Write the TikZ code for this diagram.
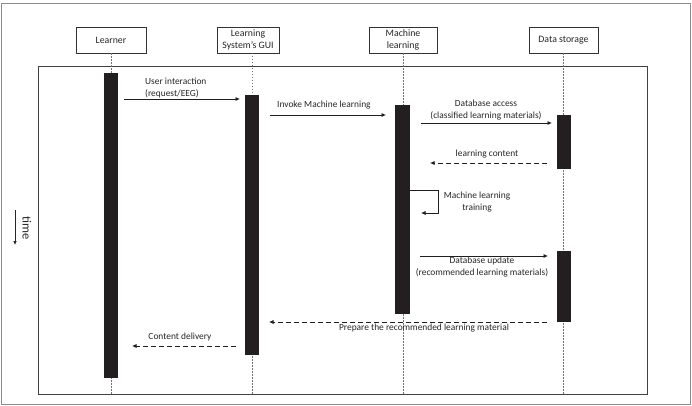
\documentclass[tikz,border=0pt]{standalone}
\usepackage{fontspec}
\setmainfont{Carlito}
\usetikzlibrary{arrows.meta}
\definecolor{barc}{HTML}{231F20}
\definecolor{txt}{HTML}{262626}
\begin{document}
\begin{tikzpicture}[x=1pt,y=-1pt,
  every node/.style={text=txt},
  hdr/.style={draw=black!80, line width=0.6pt, minimum height=26pt, align=center,
    font=\fontsize{9.8}{12.5}\selectfont, inner sep=1pt, fill=white},
  actbar/.style={fill=barc, draw=none, minimum width=14pt, inner sep=0pt},
  life/.style={draw=black!55, dash pattern=on 1.5pt off 1.5pt, line width=0.5pt},
  msg/.style={-{Latex[length=4.5pt,width=4pt]}, line width=0.75pt, draw=black!88},
  ret/.style={msg, dash pattern=on 5pt off 3pt},
  lbl/.style={font=\fontsize{9.4}{12}\selectfont, align=center, inner sep=0pt}
]
\useasboundingbox (0,0) rectangle (692,406);
\draw[black!45, line width=0.9pt] (1.5,3.5) rectangle (690,404);
\draw[black!75, line width=0.6pt] (38,66) rectangle (647,394);

% headers
\node[hdr, minimum width=70pt] (learner) at (111,40) {Learner};
\node[hdr, minimum width=62pt] (gui) at (248,40) {Learning\\System's GUI};
\node[hdr, minimum width=68pt] (ml) at (403,40) {Machine\\learning};
\node[hdr, minimum width=69pt] (ds) at (563.5,40) {Data storage};

% lifeline ends
\coordinate (learnerEnd) at (111,394);
\coordinate (guiEnd) at (252,394);
\coordinate (mlEnd) at (403,394);
\coordinate (dsEnd) at (563.5,394);
\draw[life] (learner.south) -- (learnerEnd);
\draw[life] (252,53) -- (guiEnd);
\draw[life] (ml.south) -- (mlEnd);
\draw[life] (ds.south) -- (dsEnd);

% activation bars
\node[actbar, minimum height=305pt] (lbar) at (111,225.5) {};
\node[actbar, minimum height=260pt] (gbar) at (252,225) {};
\node[actbar, minimum height=209pt, minimum width=15pt] (mbar) at (402.5,209.5) {};
\node[actbar, minimum height=54pt] (dbar1) at (564,142) {};
\node[actbar, minimum height=71pt] (dbar2) at (564,286.5) {};

% message end points
\coordinate (m1s) at (124,99);   \coordinate (m1e) at (240,99);
\coordinate (m2s) at (270,115);  \coordinate (m2e) at (386,115);
\coordinate (m3s) at (421,123);  \coordinate (m3e) at (552,123);
\coordinate (m4s) at (547,163);  \coordinate (m4e) at (430,163);
\coordinate (m5a) at (438,190);  \coordinate (m5b) at (438,213); \coordinate (m5e) at (421,213);
\coordinate (m6s) at (420,256);  \coordinate (m6e) at (548,256);
\coordinate (m7s) at (547,322);  \coordinate (m7e) at (269,322);
\coordinate (m8s) at (236,346);  \coordinate (m8e) at (132,346);

\draw[msg] (m1s) -- (m1e);
\draw[msg] (m2s) -- (m2e);
\draw[msg] (m3s) -- (m3e);
\draw[ret] (m4s) -- (m4e);
\draw[msg] (mbar.east |- m5a) -- (m5a) -- (m5b) -- (m5e);
\draw[msg] (m6s) -- (m6e);
\draw[ret] (m7s) -- (m7e);
\draw[ret] (m8s) -- (m8e);

% labels
\node[lbl, align=left, anchor=west] (t1) at (145,88) {User interaction\\(request/EEG)};
\node[lbl, anchor=west] (t2) at (277,105) {Invoke Machine learning};
\node[lbl] (t3) at (486,110) {Database access\\(classified learning materials)};
\node[lbl] (t4) at (487,154) {learning content};
\node[lbl] (t5) at (477,202) {Machine learning\\training};
\node[lbl] (t6) at (482,267) {Database update\\(recommended learning materials)};
\node[lbl] (t7) at (424,328) {Prepare the recommended learning material};
\node[lbl] (t8) at (180,337) {Content delivery};

% time
\node[font=\fontsize{12.5}{14}\selectfont, rotate=-90, inner sep=0pt] (time) at (27,228) {time};
\coordinate (ta) at (15,210); \coordinate (tb) at (15,245);
\draw[-{Latex[length=4pt,width=3.5pt]}, line width=0.7pt, draw=black!85] (ta) -- (tb);
\end{tikzpicture}
\end{document}
